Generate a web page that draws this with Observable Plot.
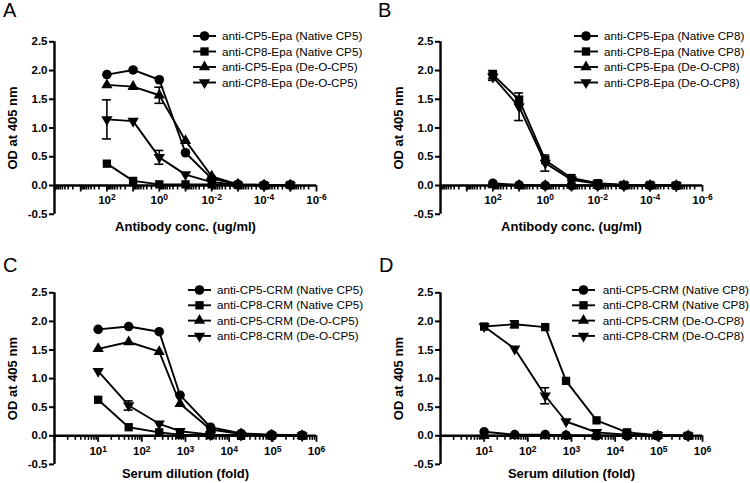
<!DOCTYPE html>
<html><head><meta charset="utf-8">
<script src="https://cdn.jsdelivr.net/npm/d3@7"></script>
<script src="https://cdn.jsdelivr.net/npm/@observablehq/plot@0.6"></script>
<style>
body{margin:0;background:#fff;}
#root{position:relative;width:750px;height:483px;overflow:hidden;font-family:"Liberation Sans",Arial,sans-serif;background:#fff;}
.panel{position:absolute;}
.letter{position:absolute;font-size:20px;line-height:20px;color:#000;font-family:"Liberation Sans",Arial,sans-serif;}
</style></head><body><div id="root"></div>
<script>
// ---------- shared axis data ----------
const concentrations = [100, 10, 1, 0.1, 0.01, 0.001, 0.0001, 0.00001];
const dilutions = [10, 50, 250, 750, 3750, 18750, 93750, 468750];
const yTicks = [-0.5, 0, 0.5, 1, 1.5, 2, 2.5];
const concTickValues = [1e2, 1e0, 1e-2, 1e-4, 1e-6];
const concTickLabels = ["10^2", "10^0", "10^-2", "10^-4", "10^-6"];
const dilTickValues = [1e1, 1e2, 1e3, 1e4, 1e5, 1e6];
const dilTickLabels = ["10^1", "10^2", "10^3", "10^4", "10^5", "10^6"];
const yTitle = "OD at 405 nm";
const concTitle = "Antibody conc. (ug/ml)";
const dilTitle = "Serum dilution (fold)";

// ---------- Panel A ----------
const seriesA = ["anti-CP5-Epa (Native CP5)", "anti-CP8-Epa (Native CP5)", "anti-CP5-Epa (De-O-CP5)", "anti-CP8-Epa (De-O-CP5)"];
const aCp5Native = [1.93, 2.01, 1.84, 0.57, 0.12, 0.02, 0.01, 0.01];
const aCp8Native = [0.38, 0.08, 0.02, 0.02, 0.02, 0.01, 0.00, 0.01];
const aCp5DeO    = [1.75, 1.72, 1.57, 0.78, 0.16, 0.02, 0.01, 0.01];
const aCp8DeO    = [1.15, 1.12, 0.49, 0.19, 0.06, 0.01, 0.00, 0.00];
const aErrCp5Native = [0, 0, 0, 0, 0, 0, 0, 0];
const aErrCp8Native = [0, 0, 0, 0, 0, 0, 0, 0];
const aErrCp5DeO    = [0, 0, 0.14, 0, 0, 0, 0, 0];
const aErrCp8DeO    = [0.34, 0, 0.12, 0, 0, 0, 0, 0];

// ---------- Panel B ----------
const seriesB = ["anti-CP5-Epa (Native CP8)", "anti-CP8-Epa (Native CP8)", "anti-CP5-Epa (De-O-CP8)", "anti-CP8-Epa (De-O-CP8)"];
const bCp5Native = [0.04, 0.01, 0.00, 0.00, 0.00, 0.00, 0.00, 0.00];
const bCp8Native = [1.93, 1.49, 0.44, 0.13, 0.04, 0.01, 0.01, 0.00];
const bCp5DeO    = [0.01, 0.00, 0.00, 0.00, 0.00, 0.00, 0.00, 0.00];
const bCp8DeO    = [1.89, 1.37, 0.39, 0.10, 0.03, 0.01, 0.00, 0.00];
const bErrCp5Native = [0, 0, 0, 0, 0, 0, 0, 0];
const bErrCp8Native = [0.07, 0.06, 0, 0, 0, 0, 0, 0];
const bErrCp5DeO    = [0, 0, 0, 0, 0, 0, 0, 0];
const bErrCp8DeO    = [0.06, 0.24, 0.14, 0, 0, 0, 0, 0];

// ---------- Panel C ----------
const seriesC = ["anti-CP5-CRM (Native CP5)", "anti-CP8-CRM (Native CP5)", "anti-CP5-CRM (De-O-CP5)", "anti-CP8-CRM (De-O-CP5)"];
const cCp5Native = [1.86, 1.91, 1.82, 0.71, 0.15, 0.04, 0.02, 0.01];
const cCp8Native = [0.63, 0.15, 0.06, 0.02, 0.01, 0.00, 0.00, 0.00];
const cCp5DeO    = [1.52, 1.64, 1.47, 0.56, 0.11, 0.03, 0.01, 0.00];
const cCp8DeO    = [1.13, 0.53, 0.21, 0.08, 0.02, 0.01, 0.00, 0.00];
const cErrCp5Native = [0, 0, 0, 0, 0, 0, 0, 0];
const cErrCp8Native = [0, 0, 0, 0, 0, 0, 0, 0];
const cErrCp5DeO    = [0, 0, 0, 0, 0, 0, 0, 0];
const cErrCp8DeO    = [0, 0.08, 0, 0, 0, 0, 0, 0];

// ---------- Panel D ----------
const seriesD = ["anti-CP5-CRM (Native CP8)", "anti-CP8-CRM (Native CP8)", "anti-CP5-CRM (De-O-CP8)", "anti-CP8-CRM (De-O-CP8)"];
const dCp5Native = [0.07, 0.02, 0.02, 0.01, 0.00, 0.00, 0.00, 0.00];
const dCp8Native = [1.91, 1.95, 1.90, 0.96, 0.27, 0.06, 0.01, 0.00];
const dCp5DeO    = [0.00, 0.00, 0.00, 0.00, 0.00, 0.00, 0.00, 0.00];
const dCp8DeO    = [1.91, 1.52, 0.70, 0.25, 0.06, 0.02, 0.01, 0.00];
const dErrCp5Native = [0, 0, 0, 0, 0, 0, 0, 0];
const dErrCp8Native = [0, 0.06, 0, 0, 0, 0, 0, 0];
const dErrCp5DeO    = [0, 0, 0, 0, 0, 0, 0, 0];
const dErrCp8DeO    = [0, 0, 0.14, 0, 0, 0, 0, 0];

// ---------- styles ----------
const FONT = "Liberation Sans, Arial, sans-serif";
const markerStyles = [
  {symbol: "circle", r: 4.8, rotate: 0},
  {symbol: "square", r: 4.7, rotate: 0},
  {symbol: "triangle", r: 4.2, rotate: 0},
  {symbol: "triangle", r: 4.2, rotate: 180}
];

const root = document.getElementById("root");

function superscriptify(svg) {
  d3.select(svg).selectAll("text").each(function () {
    const t = this.textContent;
    if (t.includes("^")) {
      const [base, sup] = t.split("^");
      const sel = d3.select(this);
      sel.text(null);
      sel.append("tspan").text(base);
      sel.append("tspan").attr("dy", "-0.45em").attr("font-size", "8.5px").text(sup);
    }
  });
}

function buildPanel(cfg) {
  const rows = [];
  cfg.series.forEach((name, si) => {
    cfg.values[si].forEach((v, i) => rows.push({s: si, x: cfg.xs[i], y: v, e: cfg.errors[si][i]}));
  });
  const errRows = rows.filter(d => d.e > 0);
  const lo = Math.min(...cfg.domain), hi = Math.max(...cfg.domain);
  const pLo = Math.round(Math.log10(lo)), pHi = Math.round(Math.log10(hi));
  const major = d3.range(pLo, pHi + 1).map(p => Math.pow(10, p));
  const minor = [];
  for (let p = pLo; p < pHi; p++) for (let m = 2; m < 10; m++) minor.push(m * Math.pow(10, p));

  const marks = [
    Plot.ruleY([0], {stroke: "black", strokeWidth: 2.4}),
    Plot.ruleX(minor, {x: d => d, y1: 0, y2: 0, insetBottom: -4.5, stroke: "black", strokeWidth: 1.6}),
    Plot.ruleX(major, {x: d => d, y1: 0, y2: 0, insetBottom: -6.5, stroke: "black", strokeWidth: 1.8}),
    Plot.ruleX([cfg.domain[0]], {y1: yTicks[0], y2: yTicks[yTicks.length - 1], stroke: "black", strokeWidth: 2.4}),
    Plot.axisY({ticks: yTicks, tickFormat: d => d.toFixed(1), tickSize: 5, tickPadding: 2, strokeWidth: 2,
      fontWeight: "bold", fontSize: 11.5, label: null}),
    Plot.text(cfg.tickValues, {x: d => d, y: 0, text: (d, i) => cfg.tickLabels[i], dy: cfg.tickDy,
      fontWeight: "bold", fontSize: 11.5, fill: "black"}),
    Plot.text([yTitle], {frameAnchor: "left", dx: -42, rotate: -90, textAnchor: "middle", lineAnchor: "middle",
      fontWeight: "bold", fontSize: 13, fill: "black"}),
    Plot.text([cfg.xTitle], {frameAnchor: "bottom", dy: cfg.titleDy, lineAnchor: "middle",
      fontWeight: "bold", fontSize: 13, fill: "black"}),
    Plot.line(rows, {x: "x", y: "y", z: "s", stroke: "black", strokeWidth: 1.9}),
    Plot.ruleX(errRows, {x: "x", y1: d => d.y - d.e, y2: d => d.y + d.e, stroke: "black", strokeWidth: 1.6}),
    Plot.ruleY(errRows, {x1: "x", x2: "x", y: d => d.y + d.e, insetLeft: -4.5, insetRight: -4.5, stroke: "black", strokeWidth: 1.6}),
    Plot.ruleY(errRows, {x1: "x", x2: "x", y: d => d.y - d.e, insetLeft: -4.5, insetRight: -4.5, stroke: "black", strokeWidth: 1.6})
  ];
  markerStyles.forEach((ms, si) => {
    marks.push(Plot.dot(rows.filter(d => d.s === si), {x: "x", y: "y", symbol: ms.symbol, r: ms.r, rotate: ms.rotate,
      fill: "black", stroke: "none"}));
  });

  const svg = Plot.plot({
    width: cfg.width, height: cfg.height,
    marginLeft: cfg.marginLeft, marginRight: cfg.marginRight,
    marginTop: cfg.marginTop, marginBottom: cfg.marginBottom,
    style: {fontFamily: FONT, fontSize: "11px", color: "black", background: "transparent", overflow: "visible"},
    x: {type: "log", domain: cfg.domain, axis: null},
    y: {domain: [yTicks[0], yTicks[yTicks.length - 1]], axis: null},
    marks
  });
  superscriptify(svg);
  const wrap = document.createElement("div");
  wrap.className = "panel";
  wrap.style.left = cfg.left + "px";
  wrap.style.top = cfg.top + "px";
  wrap.appendChild(svg);
  root.appendChild(wrap);

  const lg = d3.create("svg").attr("width", 200).attr("height", 80)
    .style("position", "absolute").style("left", cfg.legend.left + "px").style("top", cfg.legend.top + "px")
    .style("overflow", "visible");
  cfg.series.forEach((name, si) => {
    const y = si * cfg.legend.step + 8;
    const ms = markerStyles[si];
    const sym = ms.symbol === "circle" ? d3.symbolCircle : ms.symbol === "square" ? d3.symbolSquare : d3.symbolTriangle;
    lg.append("line").attr("x1", 0).attr("x2", cfg.legend.lineLen).attr("y1", y).attr("y2", y)
      .attr("stroke", "black").attr("stroke-width", 1.9);
    lg.append("path").attr("d", d3.symbol(sym, Math.PI * ms.r * ms.r)())
      .attr("transform", `translate(${cfg.legend.lineLen / 2},${y}) rotate(${ms.rotate})`).attr("fill", "black");
    lg.append("text").attr("x", cfg.legend.textX).attr("y", y).attr("dy", "0.35em")
      .attr("font-family", FONT).attr("font-size", 11.7).attr("fill", "black").text(name);
  });
  root.appendChild(lg.node());

  const letter = document.createElement("div");
  letter.className = "letter";
  letter.textContent = cfg.letter.text;
  letter.style.left = cfg.letter.left + "px";
  letter.style.top = cfg.letter.top + "px";
  root.appendChild(letter);
}

const topRow = {height: 250, marginTop: 41.3, marginBottom: 36.25, top: 0, tickDy: 15, titleDy: 13};
const botRow = {height: 233, marginTop: 42.3, marginBottom: 19.1, top: 250, tickDy: 16, titleDy: 9};
const leftCol = {left: 0, width: 375, marginLeft: 54, marginRight: 59};
const rightCol = {left: 375, width: 375, marginLeft: 65, marginRight: 48};

buildPanel({...topRow, ...leftCol, domain: [1e4, 1e-6], xs: concentrations,
  series: seriesA, values: [aCp5Native, aCp8Native, aCp5DeO, aCp8DeO],
  errors: [aErrCp5Native, aErrCp8Native, aErrCp5DeO, aErrCp8DeO],
  tickValues: concTickValues, tickLabels: concTickLabels, xTitle: concTitle,
  legend: {left: 193, top: 27.5, step: 15.5, lineLen: 23, textX: 29},
  letter: {text: "A", left: 3, top: 0}});

buildPanel({...topRow, ...rightCol, domain: [1e4, 1e-6], xs: concentrations,
  series: seriesB, values: [bCp5Native, bCp8Native, bCp5DeO, bCp8DeO],
  errors: [bErrCp5Native, bErrCp8Native, bErrCp5DeO, bErrCp8DeO],
  tickValues: concTickValues, tickLabels: concTickLabels, xTitle: concTitle,
  legend: {left: 574, top: 28, step: 15.5, lineLen: 24, textX: 30},
  letter: {text: "B", left: 378, top: 0}});

buildPanel({...botRow, ...leftCol, domain: [1, 1e6], xs: dilutions,
  series: seriesC, values: [cCp5Native, cCp8Native, cCp5DeO, cCp8DeO],
  errors: [cErrCp5Native, cErrCp8Native, cErrCp5DeO, cErrCp8DeO],
  tickValues: dilTickValues, tickLabels: dilTickLabels, xTitle: dilTitle,
  legend: {left: 188, top: 282, step: 15.3, lineLen: 23, textX: 29},
  letter: {text: "C", left: 3, top: 255}});

buildPanel({...botRow, ...rightCol, domain: [1, 1e6], xs: dilutions,
  series: seriesD, values: [dCp5Native, dCp8Native, dCp5DeO, dCp8DeO],
  errors: [dErrCp5Native, dErrCp8Native, dErrCp5DeO, dErrCp8DeO],
  tickValues: dilTickValues, tickLabels: dilTickLabels, xTitle: dilTitle,
  legend: {left: 572, top: 282, step: 15.3, lineLen: 23, textX: 30.7},
  letter: {text: "D", left: 379, top: 255}});
</script></body></html>
